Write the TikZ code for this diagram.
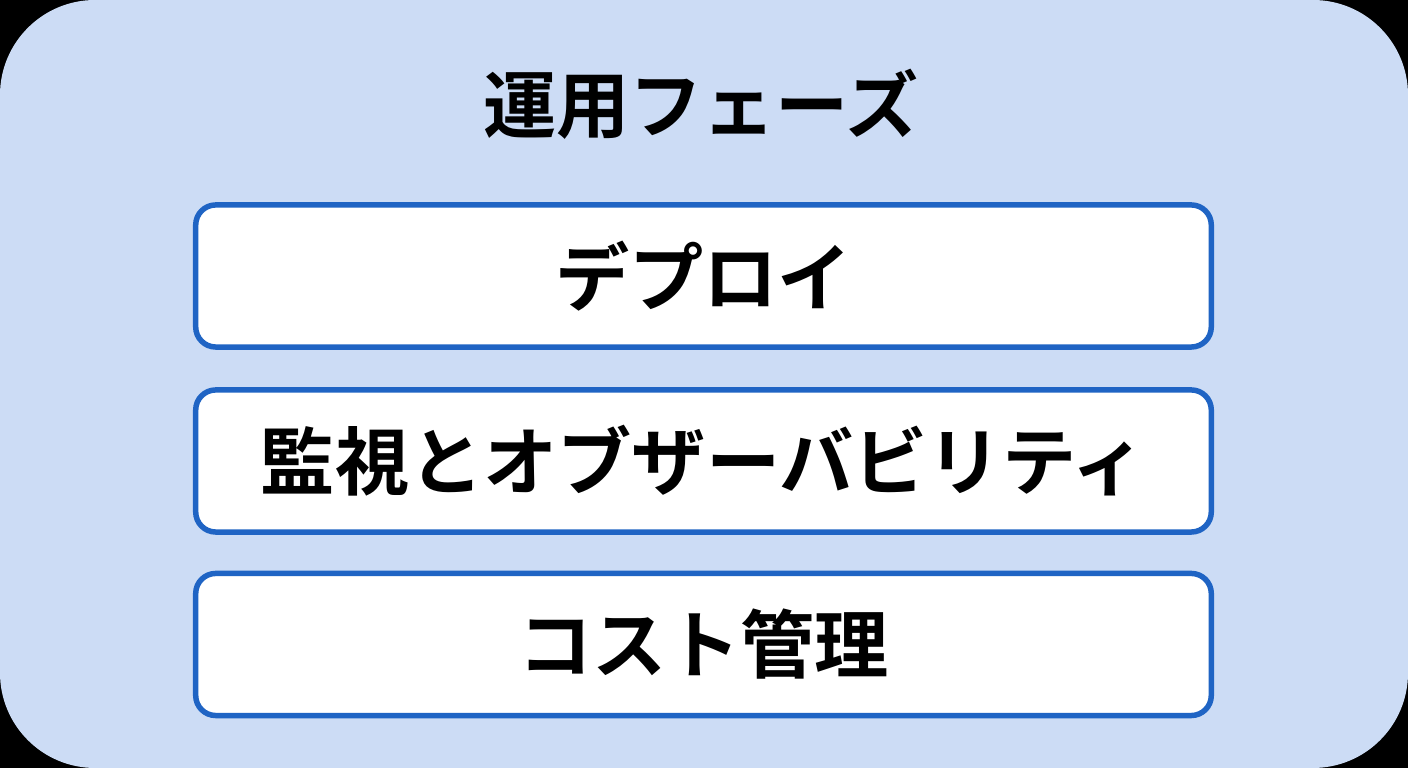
\documentclass[tikz,border=0pt]{standalone}
\usepackage{fontspec}
\newfontfamily\jpbold{Noto Sans CJK JP Bold}
\definecolor{bgblue}{HTML}{CCDCF5}
\definecolor{edgeblue}{HTML}{1F64C4}
\begin{document}
\begin{tikzpicture}[x=0.01cm,y=-0.01cm,
  stagebox/.style={draw=edgeblue,fill=white,line width=5.5pt*0.01/0.0352778,rounded corners=0.2cm,
    minimum width=10.15cm,minimum height=1.42cm,inner sep=0pt,
    font=\jpbold\fontsize{21.1pt}{24pt}\selectfont,text=black},
  titletext/.style={font=\jpbold\fontsize{20.8pt}{24pt}\selectfont,text=black,inner sep=0pt}]
\fill[black] (0,0) rectangle (1408,768);
\useasboundingbox (0,0) rectangle (1408,768);
\fill[bgblue,rounded corners=0.95cm] (0,0) rectangle (1408,768);
\node[titletext] (title) at (701,104) {運用フェーズ};
\node[stagebox] (deploy) at (703.5,276) {デプロイ};
\node[stagebox] (monitor) at (703.5,461) {監視とオブザーバビリティ};
\node[stagebox] (cost) at (703.5,644.5) {コスト管理};
\end{tikzpicture}
\end{document}
